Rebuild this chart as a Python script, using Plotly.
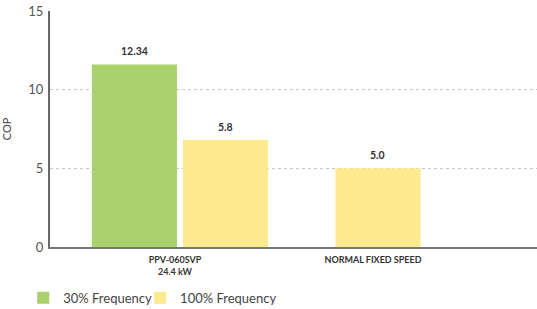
import plotly.graph_objects as go

categories = ["PPV-060SVP<br>24.4 kW", "NORMAL FIXED SPEED"]
freq30_values = [11.6]
freq30_labels = ["12.34"]
freq100_values = [6.8, 5.0]
freq100_labels = ["5.8", "5.0"]
y_ticks = [0, 5, 10, 15]

GREEN = "#A9D26C"
YELLOW = "#FEE98F"
BAR_W = 0.43
off30 = [-0.42]
off100 = [0.04, -0.19]

fig = go.Figure()
fig.add_trace(go.Bar(
    name="30% Frequency", x=categories[:1], y=freq30_values,
    marker=dict(color=GREEN, line=dict(width=0)),
    width=[BAR_W], offset=off30, legend="legend",
))
fig.add_trace(go.Bar(
    name="100% Frequency", x=categories, y=freq100_values,
    marker=dict(color=YELLOW, line=dict(width=0)),
    width=[BAR_W] * 2, offset=off100, legend="legend2",
))

annots = []
for i, (v, t) in enumerate(zip(freq30_values, freq30_labels)):
    annots.append(dict(x=i + off30[i] + BAR_W / 2, y=v, text=f"<b>{t}</b>", showarrow=False,
                       yshift=13, font=dict(size=10.5, color="#333333", family="Lato")))
for i, (v, t) in enumerate(zip(freq100_values, freq100_labels)):
    annots.append(dict(x=i + off100[i] + BAR_W / 2, y=v, text=f"<b>{t}</b>", showarrow=False,
                       yshift=13, font=dict(size=10.5, color="#333333", family="Lato")))

legend_common = dict(
    orientation="h", xanchor="left", y=-0.215, yanchor="middle",
    font=dict(size=13, color="#444444"), itemwidth=30, bgcolor="rgba(0,0,0,0)",
)

fig.update_layout(
    width=537, height=309,
    margin=dict(l=50, r=0, t=11, b=62, autoexpand=False),
    paper_bgcolor="white", plot_bgcolor="white",
    barmode="overlay",
    font=dict(family="Lato", color="#555555"),
    annotations=annots,
    showlegend=True,
    legend=dict(x=-0.055, **legend_common),
    legend2=dict(x=0.185, **legend_common),
    xaxis=dict(
        type="category", range=[-0.631, 1.828],
        tickvals=categories, ticktext=[f"<b>{c}</b>" for c in categories],
        showline=True, linecolor="#777777", linewidth=2,
        showgrid=False, ticks="", ticklabelstandoff=3,
        tickfont=dict(size=9, color="#333333", family="Lato"),
    ),
    yaxis=dict(
        range=[0, 15], tickvals=y_ticks,
        showline=True, linecolor="#666666", linewidth=2,
        showgrid=True, gridcolor="#C4C4C4", gridwidth=1, griddash="dot",
        zeroline=False, ticks="", ticklabelstandoff=2, ticklabeloverflow="allow",
        tickfont=dict(size=13, color="#555555"),
        title=dict(text="COP", font=dict(size=11, color="#444444"), standoff=14),
    ),
)
fig.write_html("out.html", config={"displayModeBar": False},
               post_script="document.body.style.margin='0';")
